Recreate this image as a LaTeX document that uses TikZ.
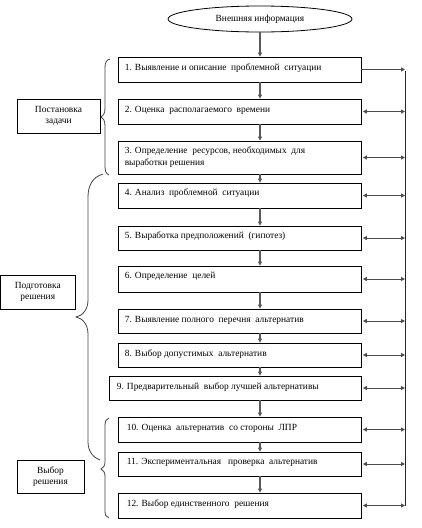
\documentclass[tikz,border=0pt]{standalone}
\usepackage{fontspec}
\setmainfont{Liberation Serif}
\usetikzlibrary{shapes.geometric,arrows.meta,calc}
\tikzset{
  box/.style={draw=black, line width=0.8pt, minimum width=243pt, inner sep=0pt},
  lbox/.style={draw=black, line width=0.8pt, inner sep=0pt, align=center, font=\fontsize{9.4}{11.5}\selectfont},
  txt/.style={anchor=west, inner sep=0pt, align=left, font=\fontsize{9.4}{12}\selectfont},
  down/.style={-{Triangle[length=4pt,width=4pt]}, line width=1.3pt, draw=black!65},
  side/.style={-{Triangle[length=4pt,width=4pt]}, line width=1pt, draw=black!70},
  both/.style={{Triangle[length=4pt,width=4pt]}-{Triangle[length=4pt,width=4pt]}, line width=1pt, draw=black!70},
  brace/.style={draw=black!75, line width=0.8pt},
}
\begin{document}
\begin{tikzpicture}[x=1pt,y=-1pt]
\useasboundingbox (0,0) rectangle (422,528);
% ellipse
\node[ellipse, draw=black, line width=0.8pt, minimum width=184pt, minimum height=26pt, inner sep=0pt,
      font=\fontsize{9.4}{11}\selectfont] (e) at (260,19) {Внешняя информация};
% boxes
\node[box, minimum height=25pt] (b1) at (239.5,69.5) {};
\node[box, minimum height=25pt] (b2) at (239.5,111.5) {};
\node[box, minimum height=33pt] (b3) at (239.5,157.5) {};
\node[box, minimum height=25pt] (b4) at (239.5,195.5) {};
\node[box, minimum height=24pt] (b5) at (239.5,238) {};
\node[box, minimum height=26pt] (b6) at (239.5,279) {};
\node[box, minimum height=24pt] (b7) at (239.5,321) {};
\node[box, minimum height=24pt] (b8) at (239.5,355) {};
\node[box, minimum width=252pt, minimum height=24pt] (b9) at (235,388) {};
\node[box, minimum height=25pt] (b10) at (239.5,429.5) {};
\node[box, minimum height=24pt] (b11) at (239.5,464) {};
\node[box, minimum height=25pt] (b12) at (239.5,505.5) {};
% texts
\node[txt] (t1) at ([xshift=7pt,yshift=1.5pt]b1.west) {1. Выявление и описание\ \ проблемной\ \ ситуации};
\node[txt] (t2) at ([xshift=7pt,yshift=1.5pt]b2.west) {2. Оценка\ \ располагаемого\ \ времени};
\node[txt] (t3) at ([xshift=7pt]b3.west) {3. Определение\ \ ресурсов, необходимых\ \ для\\выработки решения};
\node[txt] (t4) at ([xshift=7pt,yshift=2pt]b4.west) {4. Анализ\ \ проблемной\ \ ситуации};
\node[txt] (t5) at ([xshift=7pt,yshift=2pt]b5.west) {5. Выработка предположений\ \ (гипотез)};
\node[txt] (t6) at ([xshift=7pt,yshift=2.5pt]b6.west) {6. Определение\ \ целей};
\node[txt] (t7) at ([xshift=7pt,yshift=1pt]b7.west) {7. Выявление полного\ \ перечня\ \ альтернатив};
\node[txt] (t8) at ([xshift=7pt,yshift=1pt]b8.west) {8. Выбор допустимых\ \ альтернатив};
\node[txt] (t9) at ([xshift=8pt,yshift=1pt]b9.west) {9. Предварительный\ \ выбор лучшей альтернативы};
\node[txt] (t10) at ([xshift=9pt,yshift=1.5pt]b10.west) {10. Оценка\ \ альтернатив\ \ со стороны\ \ ЛПР};
\node[txt] (t11) at ([xshift=9pt,yshift=1.5pt]b11.west) {11. Экспериментальная\ \ \ проверка\ \ альтернатив};
\node[txt] (t12) at ([xshift=9pt,yshift=1.5pt]b12.west) {12. Выбор единственного\ \ решения};
% left labels
\node[lbox, minimum width=83pt, minimum height=34pt] (l1) at (58.5,116) {Постановка\\задачи};
\node[lbox, minimum width=74.5pt, minimum height=34pt] (l2) at (37.75,292) {Подготовка\\решения};
\node[lbox, minimum width=67pt, minimum height=33pt] (l3) at (50.5,476.5) {Выбор\\решения};
% vertical arrows
\draw[down] (e.south) -- (b1.north -| e.south);
\foreach \a/\b in {b1/b2,b2/b3,b3/b4,b4/b5,b5/b6,b6/b7,b7/b8,b8/b9,b9/b10,b10/b11,b11/b12}
  \draw[down] (\a.south -| e.south) -- (\b.north -| e.south);
% right line
\coordinate (rt) at (405,70.5);
\coordinate (rb) at (405,506);
\draw[line width=0.8pt, draw=black!85] (rt) -- (rb);
\draw[side] (b1.east) -- (b1.east -| rt);
\foreach \a in {b2,b3,b4,b5,b6,b7,b8,b9,b10,b11,b12}
  \draw[both] ([xshift=1.5pt]\a.east) -- (\a.east -| rt);
% braces
\draw[brace] (110,59) .. controls (106,60) and (105,63) .. (105,68) -- (105,108)
  .. controls (105,114) and (103,116) .. (101,117) .. controls (103,118) and (105,120) .. (105,126)
  -- (105,166) .. controls (105,171) and (106,174) .. (109,175);
\draw[brace] (103,174) .. controls (93,177) and (88,185) .. (88,197) -- (88,300)
  .. controls (88,310) and (82,316) .. (76,317) .. controls (82,318) and (88,324) .. (88,334)
  -- (88,442) .. controls (88,452) and (94,458) .. (100,460);
\draw[brace] (109,418) .. controls (106,419) and (105,421) .. (105,426) -- (105,462)
  .. controls (105,466) and (103,468) .. (101,469) .. controls (103,470) and (105,472) .. (105,476)
  -- (105,511) .. controls (105,515) and (106,517) .. (109,518);
\end{tikzpicture}
\end{document}
